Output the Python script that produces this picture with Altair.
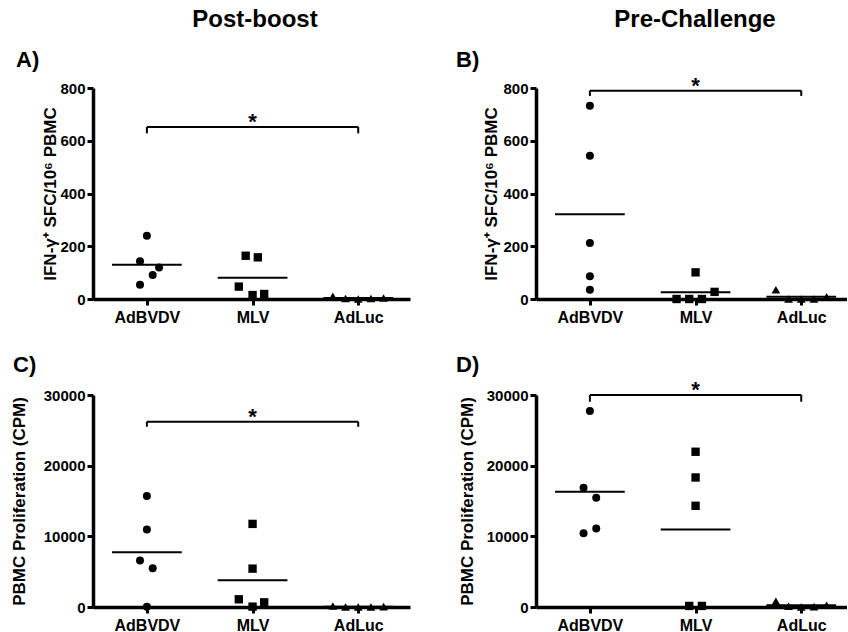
import altair as alt
import pandas as pd

FONT = "Liberation Sans"
groups = ["AdBVDV", "MLV", "AdLuc"]
shapes = ["circle", "square", "triangle-up"]
sizes = [64, 76, 69]

# ---- data ----
# A) IFN-g SFC, post-boost
a_adbvdv = [240, 143, 119, 91, 54]
a_mlv = [164, 158, 47, 15, 19]
a_adluc = [10, 2, 0, 2, 4]
# B) IFN-g SFC, pre-challenge
b_adbvdv = [733, 543, 212, 86, 35]
b_mlv = [101, 27, 0, 0, 0]
b_adluc = [35, 0, 0, 0, 8]
# C) PBMC proliferation, post-boost
c_adbvdv = [15700, 10950, 6570, 5480, 50]
c_mlv = [11760, 5430, 1090, 50, 660]
c_adluc = [150, 0, 0, 0, 50]
# D) PBMC proliferation, pre-challenge
d_adbvdv = [27730, 16870, 15450, 11100, 10440]
d_mlv = [21970, 18330, 14320, 150, 150]
d_adluc = [800, 100, 0, 50, 250]

# horizontal spread of the points within each group (category units)
a_spread = [[0, -0.065, 0.115, 0.055, -0.065], [-0.065, 0.05, -0.13, 0, 0.11], [-0.24, -0.12, 0, 0.12, 0.24]]
b_spread = [[0, 0, 0, 0, 0], [0, 0.18, -0.18, -0.06, 0.06], [-0.24, -0.12, 0, 0.12, 0.24]]
c_spread = [[0, 0, -0.065, 0.055, 0], [0, 0, -0.13, 0, 0.11], [-0.24, -0.12, 0, 0.12, 0.24]]
d_spread = [[0, -0.06, 0.06, 0.06, -0.06], [0, 0, 0, -0.06, 0.06], [-0.24, -0.12, 0, 0.12, 0.24]]

ifn_ticks = [0, 200, 400, 600, 800]
cpm_ticks = [0, 10000, 20000, 30000]
ifn_title = "IFN-\u03b3\u207a SFC/10\u2076 PBMC"
cpm_title = "PBMC Proliferation (CPM)"

# significance bracket AdBVDV vs AdLuc: [top, bottom of end ticks]
a_bracket = [652, 628]
b_bracket = [790, 770]
c_bracket = [26220, 25510]
d_bracket = [30000, 29050]

label_expr = "[" + ",".join("'%s'" % g for g in groups) + "][datum.value]"


def panel(vals, spread, ymax, yticks, ytitle, bracket, letter, coltitle,
          width, height, xmax, title_x, letter_pos, coltitle_x):
    rows = []
    for gi, g in enumerate(groups):
        for v, o in zip(vals[gi], spread[gi]):
            rows.append({"group": g, "idx": gi, "x": gi + o, "value": v})
    df = pd.DataFrame(rows)
    xs = alt.Scale(domain=[-0.51, xmax], nice=False, zero=False)
    ys = alt.Scale(domain=[0, ymax], nice=False, zero=True)

    xaxis = alt.Axis(values=[0, 1, 2], labelExpr=label_expr, title="", grid=False,
                     domainWidth=3.5, domainColor="black", tickWidth=3, tickSize=6,
                     tickColor="black", labelFont=FONT, labelFontWeight="bold",
                     labelFontSize=16, labelColor="black", labelPadding=4,
                     labelFlush=False, labelOverlap=False, zindex=1)
    yaxis = alt.Axis(values=yticks, format="d", title=ytitle, grid=False,
                     titleX=title_x, titleY=height / 2, titleAngle=270,
                     titleBaseline="middle", titleAlign="center",
                     titleFont=FONT, titleFontWeight="bold", titleFontSize=17,
                     titleColor="black", domainWidth=3.5, domainColor="black",
                     tickWidth=3, tickSize=6, tickColor="black", labelFont=FONT,
                     labelFontWeight="bold", labelFontSize=15, labelColor="black",
                     labelPadding=2, zindex=1)

    pts = alt.Chart(df).mark_point(filled=True, opacity=1, color="black").encode(
        x=alt.X("x:Q", scale=xs, axis=xaxis),
        y=alt.Y("value:Q", scale=ys, axis=yaxis),
        shape=alt.Shape("group:N", scale=alt.Scale(domain=groups, range=shapes), legend=None),
        size=alt.Size("group:N", scale=alt.Scale(domain=groups, range=sizes), legend=None),
    )
    means = alt.Chart(df).transform_aggregate(
        mean="mean(value)", groupby=["group", "idx"]
    ).transform_calculate(
        x1="datum.idx - 0.33", x2="datum.idx + 0.33"
    ).mark_rule(color="black", strokeWidth=2).encode(
        x=alt.X("x1:Q", scale=xs), x2="x2:Q", y=alt.Y("mean:Q", scale=ys),
    )
    bdf = pd.DataFrame({"x1": [0], "x2": [2], "mid": [1], "top": [bracket[0]],
                        "bottom": [bracket[1]], "star": ["*"]})
    hline = alt.Chart(bdf).mark_rule(color="black", strokeWidth=2).encode(
        x=alt.X("x1:Q", scale=xs), x2="x2:Q", y=alt.Y("top:Q", scale=ys),
    )
    edf = pd.DataFrame({"x": [0, 2], "top": [bracket[0]] * 2, "bottom": [bracket[1]] * 2})
    ends = alt.Chart(edf).mark_rule(color="black", strokeWidth=2).encode(
        x=alt.X("x:Q", scale=xs), y=alt.Y("bottom:Q", scale=ys), y2="top:Q",
    )
    star = alt.Chart(bdf).mark_text(font=FONT, fontWeight="bold", fontSize=22,
                                    baseline="alphabetic", align="center", dy=2,
                                    color="black").encode(
        x=alt.X("mid:Q", scale=xs), y=alt.Y("top:Q", scale=ys), text="star:N",
    )
    ldf = pd.DataFrame({"t": [letter]})
    let = alt.Chart(ldf).mark_text(font=FONT, fontWeight="bold", fontSize=22,
                                   baseline="alphabetic", align="left",
                                   color="black").encode(
        x=alt.value(letter_pos[0]), y=alt.value(letter_pos[1]), text="t:N")
    layers = [pts, means, hline, ends, star, let]
    if coltitle:
        tdf = pd.DataFrame({"t": [coltitle]})
        layers.append(alt.Chart(tdf).mark_text(font=FONT, fontWeight="bold", fontSize=24,
                                               baseline="alphabetic", align="center",
                                               color="black").encode(
            x=alt.value(coltitle_x), y=alt.value(-61), text="t:N"))
    return alt.layer(*layers).properties(width=width, height=height)


pA = panel([a_adbvdv, a_mlv, a_adluc], a_spread, 800, ifn_ticks, ifn_title, a_bracket,
           "A)", "Post-boost", 317, 211, 2.49, -43, (-77, -21), 162)
pB = panel([b_adbvdv, b_mlv, b_adluc], b_spread, 800, ifn_ticks, ifn_title, b_bracket,
           "B)", "Pre-Challenge", 311, 211, 2.433, -45, (-80, -21), 159)
pC = panel([c_adbvdv, c_mlv, c_adluc], c_spread, 30000, cpm_ticks, cpm_title, c_bracket,
           "C)", None, 317, 212, 2.49, -74, (-80, -23), 0)
pD = panel([d_adbvdv, d_mlv, d_adluc], d_spread, 30000, cpm_ticks, cpm_title, d_bracket,
           "D)", None, 311, 212, 2.433, -69, (-80, -23), 0)

chart = alt.concat(pA, pB, pC, pD, columns=2, bounds="flush",
                   spacing={"row": 96, "column": 126}).properties(
    padding={"left": 10, "top": 8, "right": 0, "bottom": 0}
).configure_view(stroke=None).configure_axis(
    domainWidth=3.5, domainColor="black", tickWidth=3, tickColor="black", tickSize=6
)

chart.save("out.html", embed_options={"renderer": "svg", "actions": False})
